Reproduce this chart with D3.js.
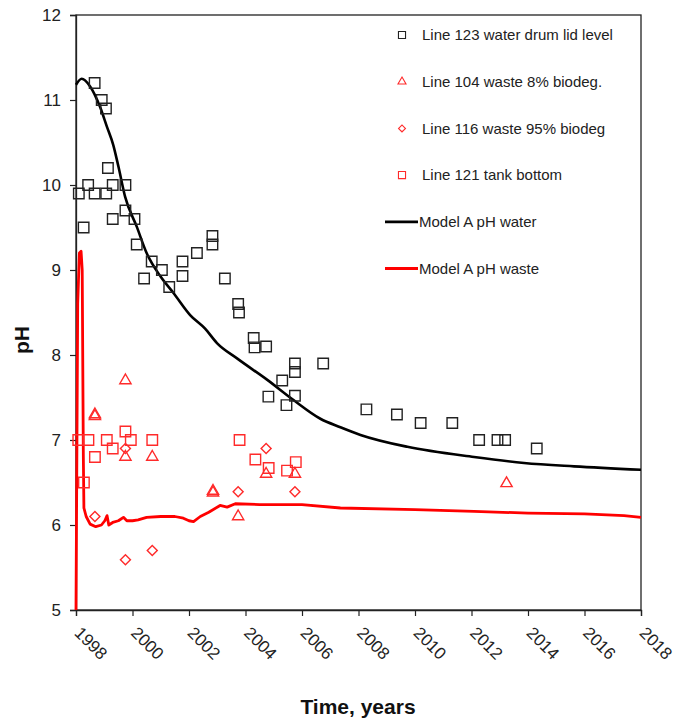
<!DOCTYPE html>
<html>
<head>
<meta charset="utf-8">
<script src="https://cdn.jsdelivr.net/npm/d3@7"></script>
<style>
  body { margin: 0; background: #fff; }
  svg { font-family: "Liberation Sans", Arial, sans-serif; }
</style>
</head>
<body>
<svg id="chart" width="678" height="724"></svg>
<script>
// measured data [year, pH]
var line123 = [[1998.1,9.9],[1998.27,9.5],[1998.43,10.0],[1998.66,11.2],[1998.66,9.9],[1998.91,11.0],
  [1999.06,10.9],[1999.07,9.9],[1999.13,10.2],[1999.3,10.0],[1999.3,9.6],[1999.75,10.0],[1999.75,9.7],
  [2000.07,9.6],[2000.15,9.3],[2000.41,8.9],[2000.68,9.1],[2001.04,9.0],[2001.3,8.8],[2001.77,9.1],
  [2001.77,8.93],[2002.28,9.2],[2002.83,9.4],[2002.83,9.3],[2003.27,8.9],[2003.74,8.6],[2003.77,8.5],
  [2004.29,8.2],[2004.32,8.09],[2004.73,8.1],[2004.81,7.51],[2005.3,7.7],[2005.45,7.41],[2005.75,7.9],
  [2005.75,7.8],[2005.75,7.52],[2006.75,7.9],[2008.28,7.36],[2009.36,7.3],[2010.2,7.2],[2011.32,7.2],
  [2012.27,7.0],[2012.92,7.0],[2013.19,7.0],[2014.31,6.9]];
var line104 = [[1998.67,7.3],[1998.67,7.28],[1999.75,7.7],[1999.75,6.8],[2000.7,6.8],[2002.85,6.4],
  [2002.85,6.38],[2003.74,6.1],[2004.73,6.6],[2005.75,6.6],[2013.24,6.49]];
var line116 = [[1998.67,6.1],[1999.75,6.9],[1999.75,5.59],[2000.7,5.7],[2003.74,6.39],[2004.73,6.9],[2005.75,6.39]];
var line121 = [[1998.08,7.0],[1998.28,6.5],[1998.44,7.0],[1998.67,6.8],[1999.09,7.0],[1999.3,6.9],
  [1999.75,7.1],[1999.94,7.0],[2000.7,7.0],[2003.79,7.0],[2004.35,6.77],[2004.82,6.67],[2005.47,6.64],[2005.78,6.74]];
var modelWater = [[1998.0,11.18],[1998.2,11.25],[1998.5,11.16],[1998.85,10.92],[1999.09,10.69],[1999.32,10.47],
  [1999.5,10.22],[1999.74,9.86],[2000.15,9.51],[2000.5,9.2],[2001.0,8.92],[2001.45,8.73],[2002.04,8.47],
  [2002.57,8.31],[2002.99,8.14],[2003.7,7.96],[2004.76,7.71],[2005.7,7.47],[2006.65,7.25],[2007.36,7.15],
  [2008.07,7.06],[2009.73,6.92],[2012.09,6.8],[2013.86,6.73],[2015.63,6.69],[2018,6.65]];
var modelWaste = [[1998.0,5.0],[1998.06,8.6],[1998.12,9.2],[1998.18,9.22],[1998.22,9.0],[1998.26,6.8],
  [1998.28,6.2],[1998.36,6.1],[1998.5,6.01],[1998.7,5.98],[1998.9,6.0],[1999.02,6.05],[1999.1,6.11],
  [1999.16,6.0],[1999.3,6.03],[1999.5,6.05],[1999.68,6.09],[1999.8,6.05],[2000.0,6.05],[2000.2,6.06],
  [2000.5,6.09],[2001.0,6.1],[2001.5,6.1],[2001.8,6.08],[2002.0,6.05],[2002.16,6.04],[2002.4,6.1],
  [2002.7,6.15],[2003.1,6.23],[2003.35,6.21],[2003.64,6.25],[2004.5,6.24],[2006,6.24],[2007.36,6.2],
  [2010,6.18],[2012.09,6.16],[2014,6.14],[2016,6.13],[2017.4,6.11],[2018,6.09]];
var xTicks = [1998,2000,2002,2004,2006,2008,2010,2012,2014,2016,2018];
var yTicks = [5,6,7,8,9,10,11,12];
var legendItems = [
  {label:"Line 123 water drum lid level", type:"square", color:"#222"},
  {label:"Line 104 waste 8% biodeg.", type:"triangle", color:"#ff2a2a"},
  {label:"Line 116 waste 95% biodeg", type:"diamond", color:"#ff2a2a"},
  {label:"Line 121 tank bottom", type:"square", color:"#ff2a2a"},
  {label:"Model A pH water", type:"line", color:"#000"},
  {label:"Model A pH waste", type:"line", color:"#f00"}
];

var svg = d3.select("#chart");
var x = d3.scaleLinear().domain([1998,2018]).range([76,641]);
var y = d3.scaleLinear().domain([5,12]).range([610,15]);

// frame
svg.append("rect").attr("x",76).attr("y",15).attr("width",565).attr("height",595)
  .attr("fill","none").attr("stroke","#222").attr("stroke-width",1.3);

// y axis
var ya = svg.append("g").attr("transform","translate(76,0)")
  .call(d3.axisLeft(y).tickValues(yTicks).tickFormat(d3.format("d")).tickSize(6).tickPadding(9));
ya.select(".domain").attr("stroke","#222").attr("stroke-width",1.3);
ya.selectAll("line").attr("stroke","#222").attr("stroke-width",1.2);
ya.selectAll("text").attr("font-size",17).attr("fill","#222").attr("font-family","Liberation Sans, Arial");

// x axis
var xa = svg.append("g").attr("transform","translate(0,610)")
  .call(d3.axisBottom(x).tickValues(xTicks).tickFormat(d3.format("d")).tickSize(6));
xa.select(".domain").attr("stroke","#222").attr("stroke-width",1.3);
xa.selectAll("line").attr("stroke","#222").attr("stroke-width",1.2);
xa.selectAll("text").attr("font-size",17).attr("fill","#222").attr("font-family","Liberation Sans, Arial")
  .attr("text-anchor","start").attr("y",0).attr("dy",0)
  .attr("transform","translate(-3,24) rotate(45)");

// titles
svg.append("text").attr("transform","translate(29,340) rotate(-90)").attr("text-anchor","middle")
  .attr("font-size",21).attr("font-weight","bold").attr("fill","#111").text("pH");
svg.append("text").attr("x",358).attr("y",714).attr("text-anchor","middle")
  .attr("font-size",21).attr("font-weight","bold").attr("fill","#111").text("Time, years");

var line = d3.line().x(d=>x(d[0])).y(d=>y(d[1]));
var smooth = d3.line().x(d=>x(d[0])).y(d=>y(d[1])).curve(d3.curveMonotoneX);

svg.append("path").attr("d",line(modelWaste)).attr("fill","none")
  .attr("stroke","#f00").attr("stroke-width",2.8).attr("stroke-linejoin","round");
svg.append("path").attr("d",smooth(modelWater)).attr("fill","none")
  .attr("stroke","#000").attr("stroke-width",2.6);

var sym = {
  square: d3.symbol().type(d3.symbolSquare),
  triangle: d3.symbol().type(d3.symbolTriangle),
  diamond: d3.symbol().type(d3.symbolSquare)  // drawn rotated 45deg
};
function rot(type) { return type==="diamond" ? " rotate(45)" : ""; }

function drawPoints(data, type, color, size) {
  svg.append("g").selectAll("path").data(data).join("path")
    .attr("d", sym[type].size(size)())
    .attr("transform", d=>"translate("+x(d[0])+","+y(d[1])+")"+rot(type))
    .attr("fill","none").attr("stroke",color).attr("stroke-width",1.4);
}
drawPoints(line123,"square","#222",110);
drawPoints(line121,"square","#ff2a2a",110);
drawPoints(line104,"triangle","#ff2a2a",55);
drawPoints(line116,"diamond","#ff2a2a",50);

// legend
var lg = svg.append("g");
legendItems.forEach(function(it,i){
  var cy = 35 + i*46.7;
  if (it.type==="line") {
    lg.append("line").attr("x1",385).attr("x2",418).attr("y1",cy).attr("y2",cy)
      .attr("stroke",it.color).attr("stroke-width",2.8);
  } else {
    var s = it.type==="square" ? 50 : (it.type==="diamond" ? 24 : 28);
    lg.append("path").attr("d",sym[it.type].size(s)())
      .attr("transform","translate(402,"+cy+")"+rot(it.type))
      .attr("fill","none").attr("stroke",it.color).attr("stroke-width",1.1);
  }
  lg.append("text").attr("x",it.type==="line"?419:422).attr("y",cy).attr("dy","0.35em")
    .attr("font-size",15).attr("fill","#222").text(it.label);
});
</script>
</body>
</html>
